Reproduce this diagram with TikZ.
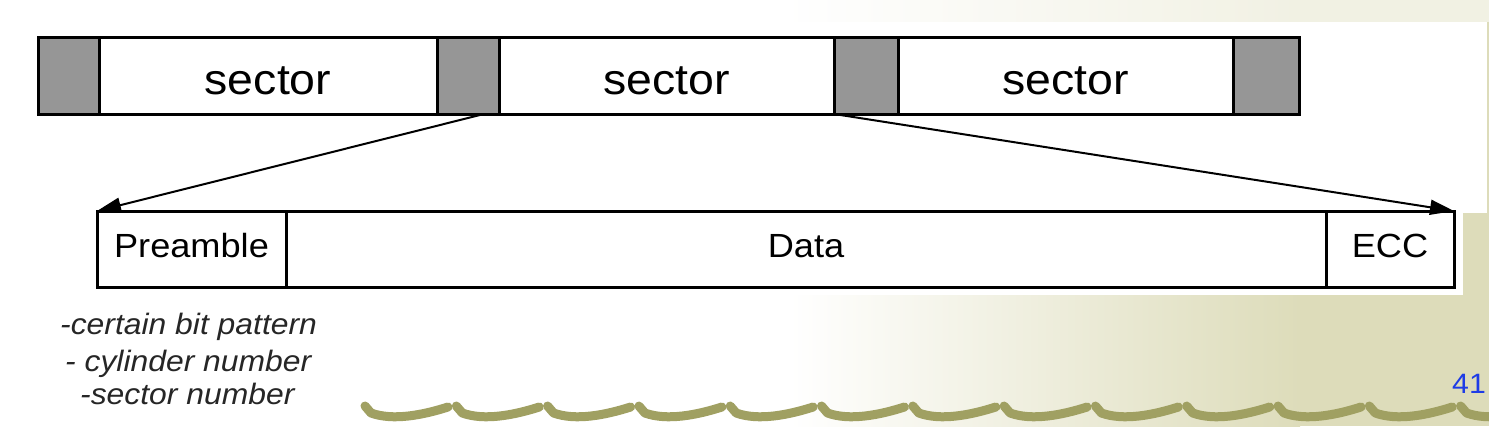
\documentclass[tikz,border=0pt]{standalone}
\usepackage{fontspec}
\setmainfont{Liberation Sans}[FakeStretch=1.08]
\usetikzlibrary{arrows.meta,calc}
\definecolor{gapgray}{RGB}{150,150,150}
\definecolor{beige}{RGB}{221,220,186}
\definecolor{olivewave}{RGB}{160,160,98}
\definecolor{pageblue}{RGB}{30,60,230}
\begin{document}
\begin{tikzpicture}[x=1pt,y=-1pt,
  cell/.style={draw=black, line width=3pt, inner sep=0pt, outer sep=0pt,
    minimum height=77pt, anchor=west, text height=37pt, text depth=0pt,
    font=\fontsize{43}{48}\selectfont},
  gapcell/.style={cell, fill=gapgray},
  seccell/.style={cell, fill=white},
  lowcell/.style={draw=black, line width=3pt, inner sep=0pt, outer sep=0pt,
    minimum height=76pt, anchor=west, fill=white, text height=16pt, text depth=0pt,
    font=\fontsize{33.5}{40}\selectfont},
  link/.style={line width=2pt, -{Triangle[length=24pt,width=15pt]}},
  note/.style={font=\fontsize{29.5}{34}\selectfont\itshape, anchor=base west,
    inner sep=0pt, text=black!85},
  wave/.style={draw=olivewave, line width=9pt, line cap=round, line join=round}
]
\useasboundingbox (0,0) rectangle (1489,426);
% slide background
\fill[white] (0,0) rectangle (1489,426);
\shade[left color=white, right color=beige] (790,0) rectangle (1300,426);
\fill[beige] (1300,0) rectangle (1489,426);
\fill[white, opacity=0.6] (780,0) rectangle (1489,22);
% pasted picture area
\fill[white] (0,22) rectangle (1487,213);
\fill[white] (0,213) rectangle (1463,295);
% wavy footer
\foreach \i in {0,...,12} {
  \pgfmathsetmacro{\xx}{363+91.3*\i}
  \draw[wave] (\xx+2,406) -- (\xx+8,413) .. controls (\xx+30,421) and (\xx+60,415) .. (\xx+85,407);
}
% top track
\node[gapcell, minimum width=61pt] (g1) at (38,75.5) {};
\node[seccell, minimum width=338pt] (s1) at (g1.east) {sector};
\node[gapcell, minimum width=62pt] (g2) at (s1.east) {};
\node[seccell, minimum width=335pt] (s2) at (g2.east) {sector};
\node[gapcell, minimum width=64pt] (g3) at (s2.east) {};
\node[seccell, minimum width=335pt] (s3) at (g3.east) {sector};
\node[gapcell, minimum width=66pt] (g4) at (s3.east) {};
% sector layout
\node[lowcell, minimum width=189pt] (pre) at (97,249) {Preamble};
\node[lowcell, minimum width=1040pt] (data) at (pre.east) {Data};
\node[lowcell, minimum width=128pt] (ecc) at (data.east) {ECC};
% connectors
\draw[link] ([xshift=-15pt]g2.south east) -- (pre.north west);
\draw[link] (g3.south west) -- (ecc.north east);
% notes
\node[note] (n1) at (60,334) {-certain bit pattern};
\node[note] (n2) at (65,371) {- cylinder number};
\node[note] (n3) at (80,404) {-sector number};
\node[anchor=base west, inner sep=0pt, text=pageblue, font=\fontsize{28}{32}\selectfont] (pg) at (1452,393) {41};
\end{tikzpicture}
\end{document}
